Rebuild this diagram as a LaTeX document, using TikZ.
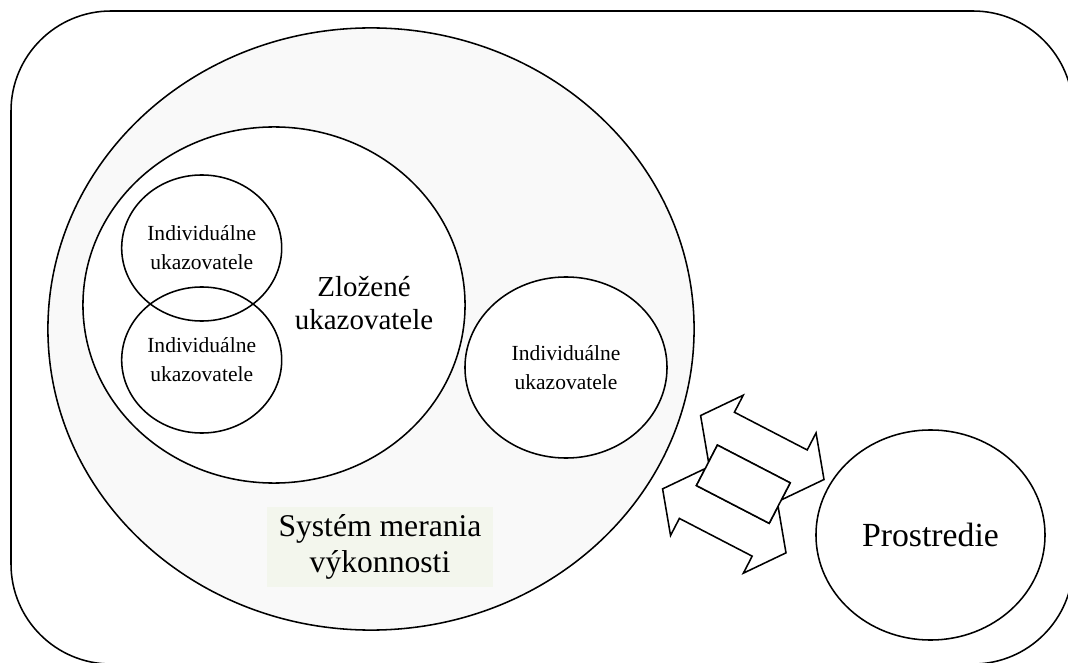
\documentclass[tikz,border=0pt]{standalone}
\usepackage{fontspec}
\setmainfont{Liberation Serif}
\usetikzlibrary{shapes,positioning}
\definecolor{sysfill}{RGB}{249,249,249}
\definecolor{labelfill}{RGB}{243,246,237}

\tikzset{
  oval/.style={draw, ellipse, inner sep=0pt},
  small/.style={font=\fontsize{15.3}{20.5}\selectfont, align=center},
  large/.style={font=\fontsize{20.6}{24}\selectfont, align=center},
  arrowbody/.style={draw, fill=white, line join=miter}
}

\begin{document}
\begin{tikzpicture}[x=0.025cm, y=-0.025cm, line width=1.1pt]
\useasboundingbox (0,0) rectangle (1068,663);
\draw[rounded corners=2.5cm] (11,11) rectangle (1073,664);

\node[oval, fill=sysfill, minimum width=16.15cm, minimum height=15.05cm] (system) at (371,329) {};
\node[oval, fill=white, minimum width=9.55cm, minimum height=8.9cm] (composite) at (274,305) {};
\node[oval, small, minimum width=4cm, minimum height=3.65cm] (indA) at (201.7,248) {Individuálne\\ukazovatele};
\node[oval, small, minimum width=4cm, minimum height=3.65cm] (indB) at (201.7,360) {Individuálne\\ukazovatele};
\node[oval, small, fill=white, minimum width=5.05cm, minimum height=4.525cm] (indC) at (566,367.5) {Individuálne\\ukazovatele};
\node[oval, fill=white, minimum width=5.725cm, minimum height=5.25cm, font=\fontsize{24}{26}\selectfont] (env) at (930.5,535) {Prostredie};

\node[large] (compositelabel) at (364,303) {Zložené\\ukazovatele};
\node[large, font=\fontsize{22.5}{26}\selectfont, fill=labelfill, minimum width=5.625cm, minimum height=2cm] (systemlabel) at (380,547) {Systém merania\\výkonnosti};

\begin{scope}[shift={(743.3,484.2)}, rotate=-27.4]
\draw[arrowbody] (-69.5,-41.3) -- (-41,-79) -- (-41,-59.8) -- (41,-59.8) -- (41,-79) -- (69.5,-41.3)
  -- (41,-3.6) -- (41,-22.8) -- (-41,-22.8) -- (-41,-3.6) -- cycle;
\draw[arrowbody] (-69.5,41.3) -- (-41,79) -- (-41,59.8) -- (41,59.8) -- (41,79) -- (69.5,41.3)
  -- (41,3.6) -- (41,22.8) -- (-41,22.8) -- (-41,3.6) -- cycle;
\draw[arrowbody] (-41,-22.8) rectangle (41,22.8);
\end{scope}
\end{tikzpicture}
\end{document}
